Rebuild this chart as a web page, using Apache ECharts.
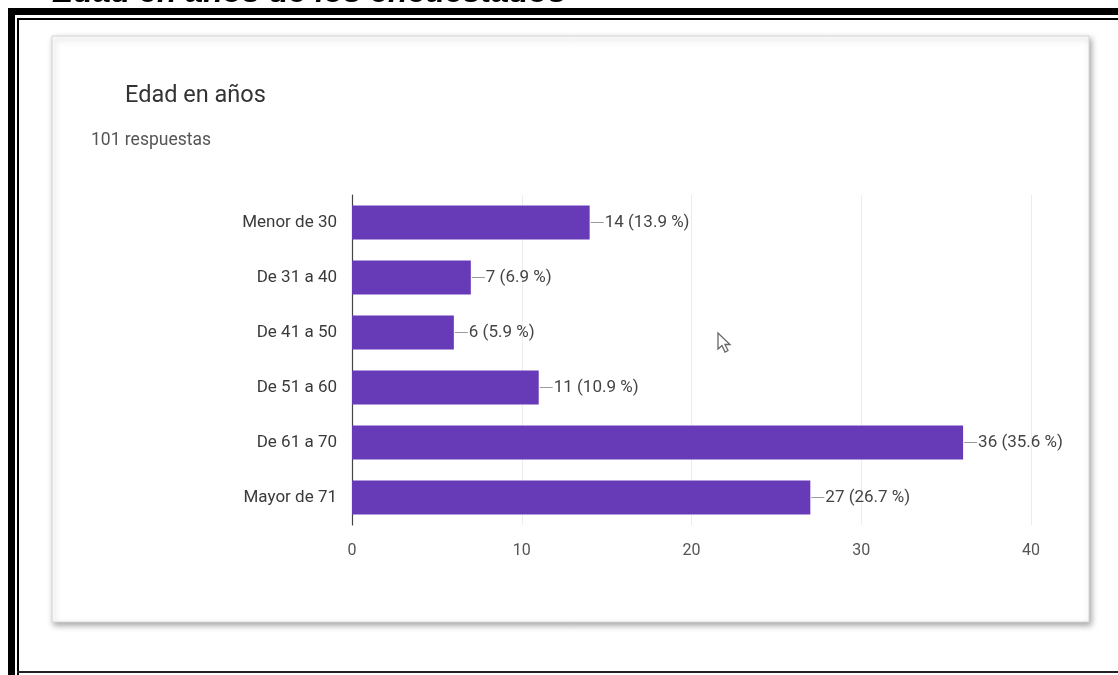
<!DOCTYPE html>
<html><head><meta charset="utf-8">
<script src="https://cdn.jsdelivr.net/npm/echarts@6/dist/echarts.min.js"></script>
<style>html,body{margin:0;padding:0;background:#fff}#c{width:1118px;height:675px}</style>
</head><body><div id="c"></div>
<script>
const categories = ['Menor de 30','De 31 a 40','De 41 a 50','De 51 a 60','De 61 a 70','Mayor de 71'];
const counts = [14, 7, 6, 11, 36, 27];
const percents = ['13.9', '6.9', '5.9', '10.9', '35.6', '26.7'];
const xMin = 0, xMax = 40, xStep = 10;
const pageHeading = 'Edad en años de los encuestados';
const chartTitle = 'Edad en años';
const chartSubtitle = '101 respuestas';

const chart = echarts.init(document.getElementById('c'), null, {renderer: 'canvas'});
const F = 'Roboto, "Liberation Sans", Arial, sans-serif';

chart.setOption({
  backgroundColor: '#ffffff',
  animation: false,
  graphic: [
    // cropped page heading
    {type: 'text', z: -5, left: 52, top: -23, style: {text: pageHeading, fontSize: 32, fontWeight: 'bold', fontStyle: 'italic', fontFamily: '"Liberation Sans", Arial, sans-serif', fill: '#000'}},
    // outer thick frame
    {type: 'rect', z: -5, shape: {x: 8, y: 8, width: 1118, height: 7}, style: {fill: '#000'}},
    {type: 'rect', z: -5, shape: {x: 8, y: 8, width: 7, height: 680}, style: {fill: '#000'}},
    // inner thin frame
    {type: 'rect', z: -5, shape: {x: 18, y: 18, width: 1118, height: 2}, style: {fill: '#000'}},
    {type: 'rect', z: -5, shape: {x: 17, y: 18, width: 2, height: 660}, style: {fill: '#000'}},
    {type: 'rect', z: -5, shape: {x: 17, y: 671, width: 1118, height: 2}, style: {fill: '#222'}},
    // card
    {type: 'rect', z: -4, shape: {x: 52, y: 36, width: 1037, height: 586}, style: {fill: '#fff', stroke: '#d6d6d6', lineWidth: 1, shadowBlur: 6, shadowOffsetX: 2, shadowOffsetY: 3, shadowColor: 'rgba(0,0,0,0.35)'}},
    {type: 'text', z: 5, left: 125, top: 84, style: {text: chartTitle, fontSize: 23.5, fontFamily: F, fill: '#333'}},
    {type: 'text', z: 5, left: 91, top: 132, style: {text: chartSubtitle, fontSize: 17.5, fontFamily: F, fill: '#555'}},
    // mouse pointer
    {type: 'polygon', z: 5, shape: {points: [[718,333],[718,349],[722,345.5],[725,352],[728,350.5],[725,344.5],[730,344.5]]}, style: {fill: '#fff', stroke: '#666', lineWidth: 1.3}}
  ],
  grid: {left: 352, right: 87, top: 195, height: 330, containLabel: false},
  xAxis: {
    type: 'value', min: xMin, max: xMax, interval: xStep,
    axisLine: {show: false}, axisTick: {show: false},
    axisLabel: {color: '#555', fontSize: 16, fontFamily: F, margin: 18},
    splitLine: {show: true, lineStyle: {color: '#ececec', width: 1}}
  },
  yAxis: {
    type: 'category', data: categories, inverse: true,
    axisTick: {show: false},
    axisLine: {show: true, lineStyle: {color: '#444', width: 1.2}},
    axisLabel: {color: '#3a3a3a', fontSize: 17, fontFamily: F, margin: 15}
  },
  series: [{
    type: 'bar',
    data: counts,
    barWidth: 34,
    itemStyle: {color: '#673ab7'},
    label: {
      show: true, position: 'right', distance: 1,
      formatter: p => '{l|}{t|' + counts[p.dataIndex] + ' (' + percents[p.dataIndex] + ' %)}',
      rich: {
        l: {width: 13, height: 1, backgroundColor: '#9a9a9a', verticalAlign: 'middle'},
        t: {fontSize: 17, fontFamily: F, color: '#444', padding: [0, 0, 0, 1]}
      }
    }
  }]
});
</script></body></html>
